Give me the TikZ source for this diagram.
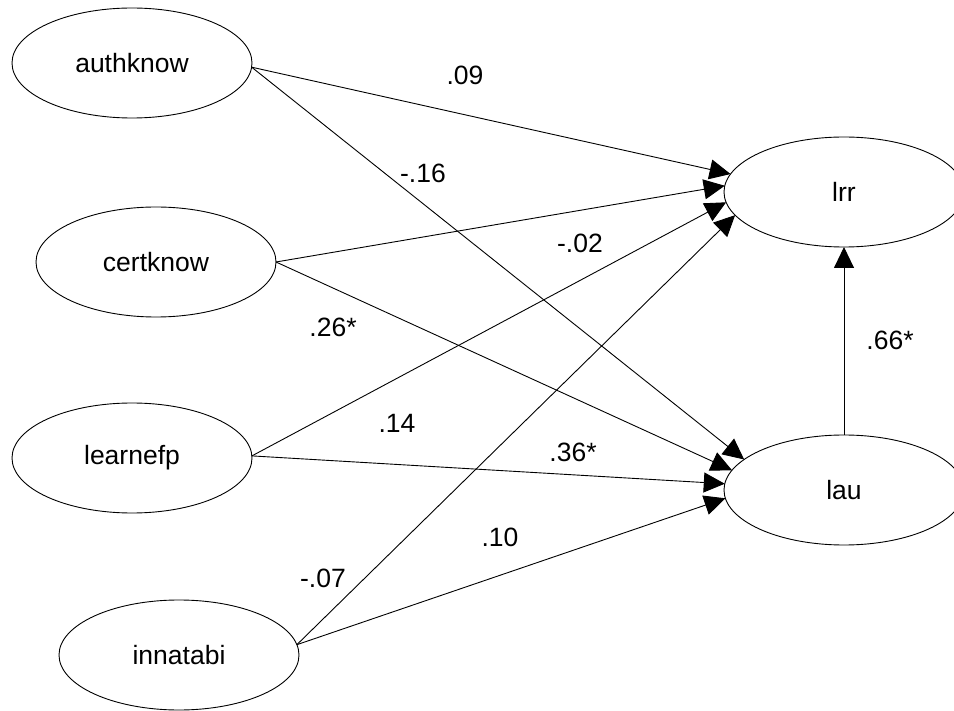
\documentclass[tikz,border=0pt]{standalone}
\usepackage{fontspec}
\setmainfont{Liberation Sans}
\usetikzlibrary{shapes.geometric,arrows.meta}
\begin{document}
\begin{tikzpicture}[x=1pt,y=-1pt,
  latent/.style={draw, ellipse, minimum width=240pt, minimum height=110pt,
    inner sep=0pt, outer sep=0pt, line width=0.9pt,
    font=\fontsize{26.5}{30}\selectfont},
  effect/.style={line width=0.9pt, -{Triangle[length=21pt,width=20pt]}},
  coef/.style={inner sep=0pt, font=\fontsize{26.5}{30}\selectfont}]
\clip (0,0) rectangle (954,711);
\fill[white] (0,0) rectangle (954,711);

% latent variables
\node[latent] (authknow) at (132,63)  {authknow};
\node[latent] (certknow) at (156,262) {certknow};
\node[latent] (learnefp) at (132,458) {learnefp};
\node[latent] (innatabi) at (179,655) {innatabi};
\node[latent] (lrr)      at (844,192) {lrr};
\node[latent] (lau)      at (844,490) {lau};

% paths into lrr
\draw[effect] (authknow.-2.4) -- (lrr.171);
\draw[effect] (certknow.0)    -- (lrr.177.6);
\draw[effect] (learnefp.1.4)  -- (lrr.185.8);
\draw[effect] (innatabi.5.9)  -- (lrr.192.8);

% paths into lau
\draw[effect] (authknow.-2.4) -- (lau.163.4);
\draw[effect] (certknow.0)    -- (lau.170.1);
\draw[effect] (learnefp.1.4)  -- (lau.177.1);
\draw[effect] (innatabi.5.9)  -- (lau.184.3);

% lau -> lrr
\draw[effect] (lau.north) -- (lrr.south);

% path coefficients
\node[coef] (c09) at (465,75)  {.09};
\node[coef] (c16) at (423,173) {-.16};
\node[coef] (c02) at (580,243) {-.02};
\node[coef] (c26) at (333,327) {.26*};
\node[coef] (c14) at (397,423) {.14};
\node[coef] (c36) at (573,452) {.36*};
\node[coef] (c10) at (500,537) {.10};
\node[coef] (c07) at (323,578) {-.07};
\node[coef] (c66) at (890,340) {.66*};
\end{tikzpicture}
\end{document}
